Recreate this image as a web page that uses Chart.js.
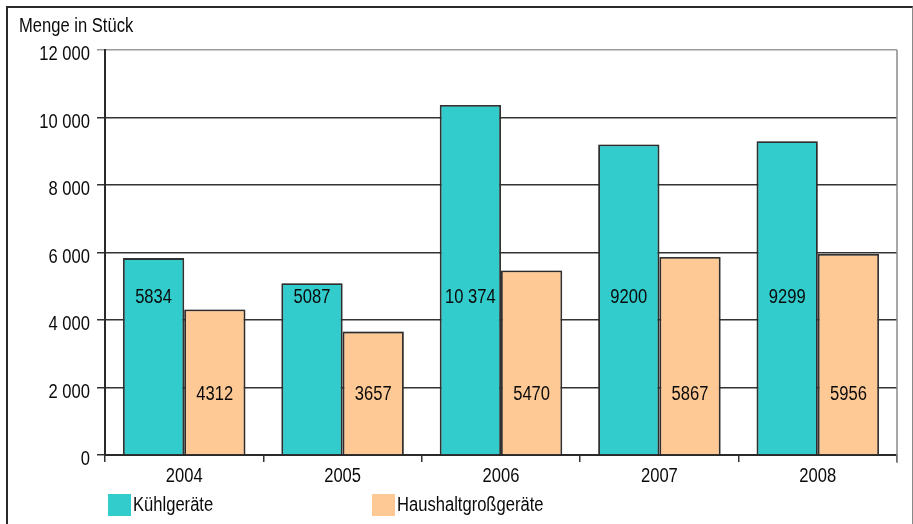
<!DOCTYPE html>
<html>
<head>
<meta charset="utf-8">
<script src="https://cdn.jsdelivr.net/npm/chart.js@4/dist/chart.umd.min.js"></script>
<style>
  html, body { margin: 0; padding: 0; background: #fff; }
  #wrap { position: relative; width: 913px; height: 524px; overflow: hidden; }
  #frame { position: absolute; left: 6px; top: 6px; width: 904px; height: 530px;
           border-left: 2px solid #2a2a2a; border-top: 2px solid #2a2a2a; border-right: 1px solid #888; }
  canvas { position: absolute; left: 0; top: 0; }
</style>
</head>
<body>
<div id="wrap">
  <div id="frame"></div>
  <canvas id="c" width="913" height="524"></canvas>
</div>
<script>
const categories = ['2004', '2005', '2006', '2007', '2008'];
const seriesNames = ['Kühlgeräte', 'Haushaltgroßgeräte'];
const kuehlgeraete = [5834, 5087, 10374, 9200, 9299];
const haushaltgrossgeraete = [4312, 3657, 5470, 5867, 5956];
const yTicks = [0, 2000, 4000, 6000, 8000, 10000, 12000];
const axisTitle = 'Menge in Stück';

const FONT = "'Liberation Sans', Arial, sans-serif";
const FSIZE = 19.5;
const TEXT = '#0a0a0a';
const COLORS = ['#33cccc', '#ffc995'];

// condensed look: draw all text horizontally narrowed around its anchor
const TEXT_SX = 0.85;
(function () {
  const orig = CanvasRenderingContext2D.prototype.fillText;
  CanvasRenderingContext2D.prototype.fillText = function (t, x, y, mw) {
    this.save();
    this.translate(x, y);
    this.scale(TEXT_SX, 1);
    if (mw === undefined) orig.call(this, t, 0, 0);
    else orig.call(this, t, 0, 0, mw / TEXT_SX);
    this.restore();
  };
})();

function groupSpace(n) {
  return String(n).replace(/\B(?=(\d{3})+(?!\d))/g, ' ');
}
function labelFormat(n) {
  return n >= 10000 ? groupSpace(n) : String(n);
}

const barHalo = {
  id: 'barHalo',
  beforeDatasetsDraw(chart) {
    const ctx = chart.ctx;
    ctx.save();
    ctx.shadowColor = 'rgba(0,0,0,0.35)';
    ctx.shadowBlur = 2;
  },
  afterDatasetsDraw(chart) {
    chart.ctx.restore();
  }
};

const extras = {
  id: 'extras',
  afterDraw(chart) {
    const ctx = chart.ctx;
    const area = chart.chartArea;
    ctx.save();
    // right border of plot area
    ctx.strokeStyle = '#8a8a8a';
    ctx.lineWidth = 1.5;
    ctx.beginPath();
    ctx.moveTo(area.right, area.top);
    ctx.lineTo(area.right, area.bottom + 8);
    ctx.stroke();

    // axis title
    ctx.fillStyle = TEXT;
    ctx.font = FSIZE + 'px ' + FONT;
    ctx.textAlign = 'left';
    ctx.textBaseline = 'alphabetic';
    ctx.fillText(axisTitle, 19, 32);

    // value labels
    const fracs = [0.391, 0.152];
    ctx.textAlign = 'center';
    ctx.textBaseline = 'middle';
    chart.data.datasets.forEach((ds, i) => {
      const meta = chart.getDatasetMeta(i);
      const y = area.bottom - fracs[i] * (area.bottom - area.top) + 1;
      meta.data.forEach((bar, j) => {
        ctx.fillText(labelFormat(ds.data[j]), bar.x, y);
      });
    });

    // legend
    const legendX = [108, 372];
    const boxTop = 494, box = 22;
    ctx.textAlign = 'left';
    chart.data.datasets.forEach((ds, i) => {
      ctx.fillStyle = ds.backgroundColor;
      ctx.fillRect(legendX[i], boxTop, box + 1, box);
      ctx.fillStyle = TEXT;
      ctx.fillText(ds.label, legendX[i] + box + 3, boxTop + box / 2 + 1);
    });
    ctx.restore();
  }
};

new Chart(document.getElementById('c'), {
  type: 'bar',
  data: {
    labels: categories,
    datasets: [
      { label: seriesNames[0], data: kuehlgeraete, backgroundColor: COLORS[0],
        borderColor: '#333', borderWidth: 1.8, borderSkipped: 'start' },
      { label: seriesNames[1], data: haushaltgrossgeraete, backgroundColor: COLORS[1],
        borderColor: '#333', borderWidth: 1.8, borderSkipped: 'start' }
    ]
  },
  options: {
    responsive: false,
    animation: false,
    devicePixelRatio: 1,
    layout: { padding: { left: 0, right: 16, top: 50, bottom: 0 } },
    plugins: { legend: { display: false }, tooltip: { enabled: false }, title: { display: false } },
    datasets: { bar: { barPercentage: 1, categoryPercentage: 0.773 } },
    scales: {
      x: {
        grid: { display: true, drawOnChartArea: false, drawTicks: true, tickLength: 7,
                color: '#333', lineWidth: 1.5 },
        border: { display: true, color: '#2a2a2a', width: 2 },
        ticks: { color: TEXT, font: { family: FONT, size: FSIZE }, padding: 3 },
        afterFit(scale) { scale.height = 69; }
      },
      y: {
        min: 0, max: 12000,
        afterBuildTicks(scale) { scale.ticks = yTicks.map(v => ({ value: v })); },
        grid: { color: ctx => (ctx.tick && ctx.tick.value === 12000 ? '#9a9a9a' : '#333'),
                lineWidth: 1.5, tickLength: 8 },
        border: { display: true, color: '#2a2a2a', width: 2 },
        ticks: { color: TEXT, font: { family: FONT, size: FSIZE }, padding: 7, labelOffset: 5,
                 callback: v => groupSpace(v) },
        afterFit(scale) { scale.width = 105; }
      }
    }
  },
  plugins: [barHalo, extras]
});
</script>
</body>
</html>
